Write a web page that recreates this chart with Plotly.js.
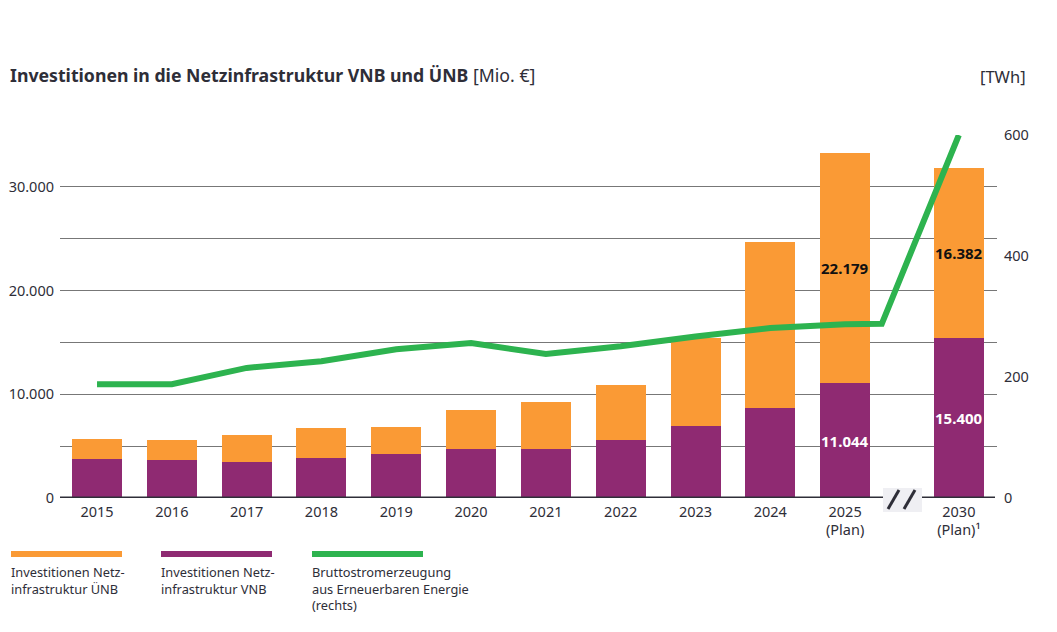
<!DOCTYPE html>
<html>
<head>
<meta charset="utf-8">
<script src="https://cdn.plot.ly/plotly-3.0.1.min.js"></script>
<style>
  html, body { margin: 0; padding: 0; background: #ffffff; }
  #chart { width: 1057px; height: 632px; }
</style>
</head>
<body>
<div id="chart"></div>
<script>
// ---- Data ----
const yearLabels = ['2015', '2016', '2017', '2018', '2019', '2020', '2021', '2022', '2023', '2024', '2025<br>(Plan)', '2030<br>(Plan)¹'];
const yearPos = [0, 1, 2, 3, 4, 5, 6, 7, 8, 9, 10, 11.52];
const investVNB = [3730, 3660, 3470, 3880, 4240, 4730, 4730, 5590, 6970, 8680, 11044, 15400];
const investUENB = [1990, 1960, 2605, 2840, 2640, 3760, 4530, 5340, 8430, 15970, 22179, 16382];
const labelled = [false, false, false, false, false, false, false, false, false, false, true, true];
const lineX = [0, 1, 2, 3, 4, 5, 6, 7, 8, 9, 10, 10.49, 11.52];
const lineTWh = [188, 188, 215, 226, 246, 256, 238, 251, 267, 281, 287, 288, 600];

const leftTickVals = [0, 5000, 10000, 15000, 20000, 25000, 30000, 35000];
const leftTickText = ['0', '', '10.000', '', '20.000', '', '30.000', ''];
const rightTickVals = [0, 200, 400, 600];

const legendNames = ['Investitionen Netz-<br>infrastruktur ÜNB', 'Investitionen Netz-<br>infrastruktur VNB', 'Bruttostromerzeugung<br>aus Erneuerbaren Energie<br>(rechts)'];

// ---- Styles ----
const C_ORANGE = '#FA9A35';
const C_PURPLE = '#8F2A72';
const C_GREEN = '#2DB34F';
const C_TEXT = '#2e2e38';
const FONT = 'Noto Sans, DejaVu Sans, sans-serif';

function fmtDE(v) {
  return String(v).replace(/\B(?=(\d{3})+(?!\d))/g, '.');
}

const traces = [
  {
    type: 'bar', name: 'VNB', x: yearPos, y: investVNB,
    marker: { color: C_PURPLE }, width: 0.668, hoverinfo: 'x+y'
  },
  {
    type: 'bar', name: 'ÜNB', x: yearPos, y: investUENB,
    marker: { color: C_ORANGE }, width: 0.668, hoverinfo: 'x+y'
  },
  {
    type: 'scatter', mode: 'lines', name: 'EE', x: lineX, y: lineTWh, yaxis: 'y2',
    line: { color: C_GREEN, width: 6, shape: 'linear' }, hoverinfo: 'x+y'
  }
];

// value labels placed through data coordinates
const annotations = [];
yearPos.forEach((x, i) => {
  if (!labelled[i]) return;
  annotations.push({
    x: x, y: investVNB[i] / 2, xref: 'x', yref: 'y', showarrow: false,
    text: '<b>' + fmtDE(investVNB[i]) + '</b>',
    font: { family: FONT, size: 15, color: '#ffffff' }
  });
  annotations.push({
    x: x, y: investVNB[i] + investUENB[i] / 2, xref: 'x', yref: 'y', showarrow: false,
    text: '<b>' + fmtDE(investUENB[i]) + '</b>',
    font: { family: FONT, size: 15, color: '#111111' }
  });
});

// pixel helpers for paper coords (plot area: x 60..997, y 135..498)
const PL = 60, PR = 997, PT = 135, PB = 498;
const px = v => (v - PL) / (PR - PL);
const py = v => (PB - v) / (PB - PT);

// axis unit header
annotations.push({
  xref: 'paper', yref: 'paper', x: px(1028), y: py(76), xanchor: 'right', yanchor: 'middle',
  showarrow: false, text: '[TWh]', font: { family: FONT, size: 16.5, color: C_TEXT }
});

// legend
const legendColors = [C_ORANGE, C_PURPLE, C_GREEN];
const legendX = [11, 161, 312];
const shapes = [];
legendNames.forEach((name, i) => {
  shapes.push({
    type: 'line', xref: 'paper', yref: 'paper',
    x0: px(legendX[i]), x1: px(legendX[i] + 111), y0: py(554), y1: py(554),
    line: { color: legendColors[i], width: 6 }
  });
  annotations.push({
    xref: 'paper', yref: 'paper', x: px(legendX[i] - 2), y: py(561), xanchor: 'left', yanchor: 'top',
    align: 'left', showarrow: false, text: name,
    font: { family: FONT, size: 12.8, color: C_TEXT }
  });
});

// baseline with axis break
shapes.push({
  type: 'line', xref: 'paper', yref: 'y', x0: 0, x1: px(995), y0: 0, y1: 0,
  line: { color: C_TEXT, width: 3 }, layer: 'above'
});
shapes.push({
  type: 'rect', xref: 'paper', yref: 'paper', x0: px(883), x1: px(922), y0: py(488), y1: py(512),
  fillcolor: '#efeff3', line: { width: 0 }, layer: 'above'
});
shapes.push({
  type: 'line', xref: 'paper', yref: 'paper', x0: px(888), x1: px(899), y0: py(509), y1: py(490),
  line: { color: C_TEXT, width: 3 }, layer: 'above'
});
shapes.push({
  type: 'line', xref: 'paper', yref: 'paper', x0: px(904), x1: px(915), y0: py(509), y1: py(490),
  line: { color: C_TEXT, width: 3 }, layer: 'above'
});

const layout = {
  width: 1057, height: 632,
  margin: { l: PL, r: 1057 - PR, t: PT, b: 632 - PB, pad: 0 },
  paper_bgcolor: '#ffffff', plot_bgcolor: '#ffffff',
  barmode: 'stack',
  showlegend: false,
  separators: ',.',
  font: { family: FONT, color: C_TEXT, size: 14 },
  title: {
    text: '<b>Investitionen in die Netzinfrastruktur VNB und ÜNB</b> [Mio. €]',
    x: 10 / 1057, xanchor: 'left', xref: 'container',
    y: 1 - 76 / 632, yanchor: 'middle', yref: 'container',
    font: { family: FONT, size: 17.7, color: C_TEXT }
  },
  xaxis: {
    range: [-0.495, 12.03],
    tickmode: 'array', tickvals: yearPos, ticktext: yearLabels,
    showgrid: false, zeroline: false, showline: false, ticks: '',
    tickfont: { family: FONT, size: 14.5, color: C_TEXT },
    ticklabelstandoff: 3,
    fixedrange: true
  },
  yaxis: {
    range: [0, 35000],
    tickmode: 'array', tickvals: leftTickVals, ticktext: leftTickText,
    showgrid: true, gridcolor: '#777777', gridwidth: 1,
    zeroline: false, showline: false, ticks: '',
    tickfont: { family: FONT, size: 14.5, color: C_TEXT },
    ticklabelstandoff: 5,
    fixedrange: true
  },
  yaxis2: {
    overlaying: 'y', side: 'right',
    range: [0, 600],
    tickmode: 'array', tickvals: rightTickVals,
    showgrid: false, zeroline: false, showline: false, ticks: '',
    tickfont: { family: FONT, size: 14.5, color: C_TEXT },
    ticklabelstandoff: 6,
    fixedrange: true
  },
  annotations: annotations,
  shapes: shapes
};

Plotly.newPlot('chart', traces, layout, { displayModeBar: false, staticPlot: true });
</script>
</body>
</html>
